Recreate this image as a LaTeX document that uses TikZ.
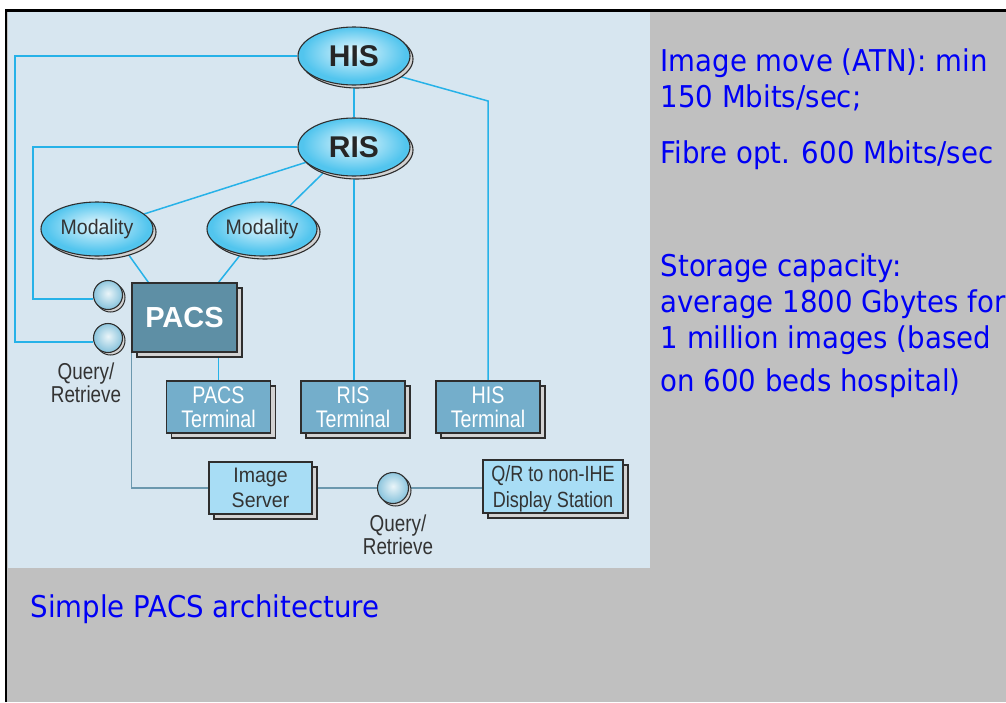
\documentclass[tikz,border=0pt]{standalone}
\usepackage{fontspec}
\usetikzlibrary{shapes.geometric,shadows,calc}
\newfontfamily\tah[FakeStretch=0.92]{DejaVu Sans}
\newfontfamily\condA[FakeStretch=0.82]{Liberation Sans}
\newfontfamily\condB[FakeStretch=0.93]{Liberation Sans}
\newfontfamily\lib{Liberation Sans}
\definecolor{bggray}{HTML}{C0C0C0}
\definecolor{panel}{HTML}{D7E6F0}
\definecolor{cyl}{HTML}{26B2E8}
\definecolor{gbl}{HTML}{6B98AE}
\definecolor{edge}{HTML}{2E2E2E}
\definecolor{shgray}{HTML}{D2D2D2}
\definecolor{elin}{HTML}{E6F7FD}
\definecolor{elout}{HTML}{52C5EE}
\definecolor{cin}{HTML}{EAF5F9}
\definecolor{cout}{HTML}{8EC6DE}
\definecolor{pacsf}{HTML}{5E8FA5}
\definecolor{termf}{HTML}{74AECB}
\definecolor{srvf}{HTML}{A8DDF5}
\definecolor{txtd}{HTML}{333333}
\definecolor{bluet}{HTML}{0000F5}
\pgfdeclareradialshading{ellsh}{\pgfpoint{0bp}{4bp}}{color(0bp)=(elin); color(23bp)=(elout); color(50bp)=(elout)}
\pgfdeclareradialshading{circsh}{\pgfpoint{0bp}{3bp}}{color(0bp)=(cin); color(24bp)=(cout); color(50bp)=(cout)}
\pgfdeclarelayer{back}
\pgfdeclarelayer{lines}
\pgfsetlayers{back,lines,main}
\begin{document}
\begin{tikzpicture}[x=1pt,y=-1pt,
  ell/.style={ellipse, draw=edge, line width=1.1pt, inner sep=0pt, shading=ellsh,
    general shadow={shadow xshift=3pt, shadow yshift=-3pt, fill=shgray, draw=edge, line width=1.1pt}},
  circ/.style={circle, draw=edge, line width=1.1pt, minimum size=29pt, inner sep=0pt, shading=circsh,
    general shadow={shadow xshift=2.5pt, shadow yshift=-2.5pt, fill=shgray, draw=edge, line width=1pt}},
  box/.style={rectangle, draw=edge, line width=1.1pt, inner sep=0pt, align=center,
    general shadow={shadow xshift=5pt, shadow yshift=-5pt, fill=shgray, draw=edge, line width=1.1pt}},
  term/.style={box, fill=termf, text=white, minimum width=104pt, minimum height=52pt,
    font=\condA\fontsize{24}{24}\selectfont},
  srv/.style={box, fill=srvf, text=txtd},
  lab/.style={inner sep=0pt, align=center, text=txtd, font=\condA\fontsize{23}{22.5}\selectfont},
  big/.style={font=\lib\bfseries\fontsize{30}{30}\selectfont, text=black!85},
  mod/.style={ell, minimum width=112pt, minimum height=54pt, text=txtd, font=\condB\fontsize{21}{21}\selectfont},
  cy/.style={draw=cyl, line width=1.5pt},
  gb/.style={draw=gbl, line width=1.5pt},
  side/.style={anchor=base west, inner sep=0pt, text=bluet, font=\tah\fontsize{30}{36}\selectfont}
]
\useasboundingbox (0,0) rectangle (1006,702);
\begin{pgfonlayer}{back}
  \fill[white] (0,0) rectangle (1006,702);
  \fill[bggray] (6,10.5) rectangle (1006,702);
  \fill[panel] (7.5,12) rectangle (650,568);
  \draw[black, line width=2.5pt] (6,702) -- (6,10.5) -- (1006,10.5);
\end{pgfonlayer}

% nodes
\node[ell, big, minimum width=112pt, minimum height=58pt] (HIS) at (354,56) {HIS};
\node[ell, big, minimum width=112pt, minimum height=58pt] (RIS) at (354,147) {RIS};
\node[mod] (ModL) at (97,229) {Modality};
\node[mod, minimum width=110pt] (ModR) at (262,229) {Modality};
\node[circ] (circU) at (108,295) {};
\node[circ] (circL) at (108,338) {};
\node[box, fill=pacsf, text=white, minimum width=105pt, minimum height=69pt,
      font=\lib\bfseries\fontsize{29}{29}\selectfont] (PACS) at (184.5,317.5) {PACS};
\node[term] (PACStm) at (218.5,407) {PACS\\Terminal};
\node[term] (RIStm) at (353,407) {RIS\\Terminal};
\node[term] (HIStm) at (488,407) {HIS\\Terminal};
\node[srv, minimum width=103pt, minimum height=52pt, font=\condB\fontsize{21}{25}\selectfont] (ImgSrv) at (260.5,488) {Image\\Server};
\node[circ, minimum size=31pt] (circB) at (393,488) {};
\node[srv, minimum width=140pt, minimum height=53pt, text depth=0pt, font=\condA\fontsize{22}{26}\selectfont] (QR) at (553,486.5) {Q/R to non-IHE\\Display Station};
\node[lab] (qrU) at (86,382.6) {Query/\\Retrieve};
\node[lab] (qrB) at (398,535) {Query/\\Retrieve};

\coordinate (lxA) at (15,0);
\coordinate (lxB) at (33,0);
\coordinate (hisbend) at (488,101);

\begin{pgfonlayer}{lines}
  \draw[cy] (HIS) -- (RIS);
  \draw[cy] (HIS.west) -| (circL.195 -| lxA) -- (circL.195);
  \draw[cy] (RIS.west) -| (circU.195 -| lxB) -- (circU.195);
  \draw[cy] (RIS) -- (ModL);
  \draw[cy] (RIS.220) -- (ModR.40);
  \draw[cy] ($(HIS.center)+(30,16)$) -- (hisbend) -- (HIStm.north);
  \draw[cy] (RIS.center) -- (RIS.center |- RIStm.north);
  \draw[cy] (ModL.-38) -- ($(PACS.north west)+(17,0)$);
  \draw[cy] (ModR.-130) -- (PACStm.north |- PACS.north);
  \draw[cy] (PACS.south -| PACStm.north) -- (PACStm.north);
  \draw[gb] (PACS.south west) |- (ImgSrv.west);
  \draw[gb] (ImgSrv.east) -- (circB.west);
  \draw[gb] (circB.east) -- (circB.east -| QR.west);
\end{pgfonlayer}

% side texts
\node[side] (t1) at (660.5,71) {Image move (ATN): min};
\node[side] (t2) at (660.5,107) {150 Mbits/sec;};
\node[side] (t3) at (660.5,163) {Fibre opt. 600 Mbits/sec};
\node[side] (t4) at (660.5,276) {Storage capacity:};
\node[side] (t5) at (660.5,312) {average 1800 Gbytes for};
\node[side] (t6) at (660.5,348) {1 million images (based};
\node[side] (t7) at (660.5,391) {on 600 beds hospital)};
\node[side] (cap) at (30.5,617) {Simple PACS architecture};
\end{tikzpicture}
\end{document}
